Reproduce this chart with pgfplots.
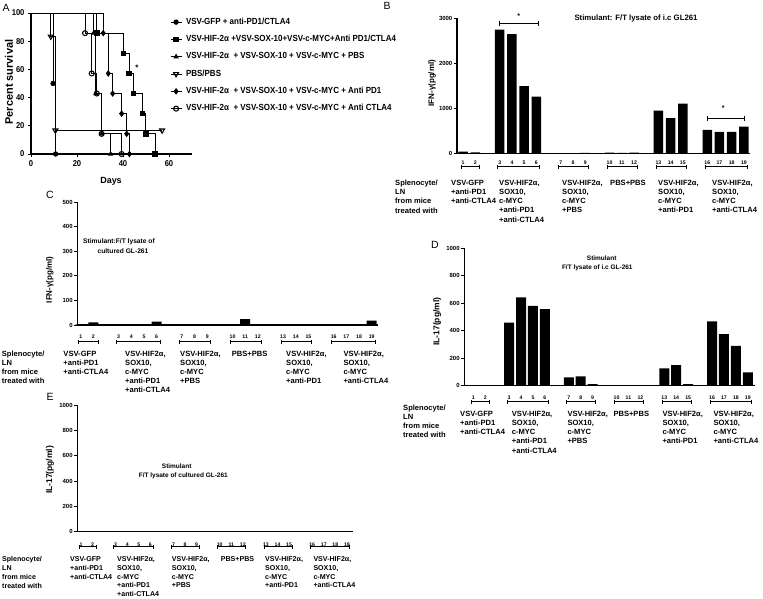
\documentclass[border=0pt]{standalone}
\usepackage{pgfplots}
\pgfplotsset{compat=1.18}
\usepackage{fontspec}
\setmainfont{Liberation Sans}
\newfontfamily\condfont[FakeStretch=0.9]{Liberation Sans}
\usetikzlibrary{arrows.meta}

\newcommand\legf{\condfont\bfseries\fontsize{8.9}{9}\selectfont}
\newcommand\atick{\condfont\bfseries\fontsize{8.5}{9}\selectfont}
\newcommand\grpf{\bfseries\fontsize{7.6}{9.2}\selectfont}
\newcommand\numf{\bfseries\fontsize{5.2}{6}\selectfont}
\newcommand\tickf{\bfseries\fontsize{6}{7}\selectfont}
\newcommand\ylf{\bfseries\fontsize{8}{9}\selectfont}
\newcommand\ylfb{\bfseries\fontsize{8.5}{9}\selectfont}
\newcommand\letf{\fontsize{10.5}{12}\selectfont}

\pgfplotsset{
  panel/.style={scale only axis, anchor=south west, axis lines=left,
    axis line style={-, line width=1.1bp, black},
    tick align=outside, major tick length=3bp,
    tick style={line width=0.9bp, black},
    clip=false, scaled ticks=false,
    /pgf/number format/assume math mode=true,
    /pgf/number format/1000 sep={}},
  bars/.style={panel, ymin=0,
    xtick={1,2,4,5,6,7,9,10,11,13,14,15,17,18,19,21,22,23,24},
    xticklabels={1,2,3,4,5,6,7,8,9,10,11,12,13,14,15,16,17,18,19},
    xtick style={draw=none},
    yticklabel style={font=\tickf, inner sep=1.5bp},
    ylabel style={font=\ylf, anchor=center}},
}
\tikzset{
  br/.style={line width=0.9bp, {Bar[width=4bp]}-{Bar[width=4bp]}},
  gl/.style={anchor=north west, inner sep=0pt, align=left, font=\grpf},
}
\newcommand\grpbr[1]{%
  \draw[br] ([yshift=-#1]axis cs:0.8,0) -- ([yshift=-#1]axis cs:2.4,0);
  \draw[br] ([yshift=-#1]axis cs:3.8,0) -- ([yshift=-#1]axis cs:7.3,0);
  \draw[br] ([yshift=-#1]axis cs:8.8,0) -- ([yshift=-#1]axis cs:11.3,0);
  \draw[br] ([yshift=-#1]axis cs:12.8,0) -- ([yshift=-#1]axis cs:15.3,0);
  \draw[br] ([yshift=-#1]axis cs:16.8,0) -- ([yshift=-#1]axis cs:19.3,0);
  \draw[br] ([yshift=-#1]axis cs:20.8,0) -- ([yshift=-#1]axis cs:24.3,0);
}
\newcommand\glabels[9]{%
  \node[gl] at (#3,#2) {Splenocyte/\\LN\\from mice\\treated with};
  \node[gl] at (#4,#1) {VSV-GFP\\+anti-PD1\\+anti-CTLA4};
  \node[gl] at (#5,#1) {VSV-HIF2α,\\SOX10,\\c-MYC\\+anti-PD1\\+anti-CTLA4};
  \node[gl] at (#6,#1) {VSV-HIF2α,\\SOX10,\\c-MYC\\+PBS};
  \node[gl] at (#7,#1) {PBS+PBS};
  \node[gl] at (#8,#1) {VSV-HIF2α,\\SOX10,\\c-MYC\\+anti-PD1};
  \node[gl] at (#9,#1) {VSV-HIF2α,\\SOX10,\\c-MYC\\+anti-CTLA4};
}

\begin{document}
\begin{tikzpicture}[x=1bp,y=1bp]
\path[use as bounding box] (0,0) rectangle (763,599);

% ---------------- Panel A ----------------
\begin{axis}[panel, at={(31bp,445bp)}, width=161bp, height=141bp,
  xmin=0, xmax=70, ymin=0, ymax=100,
  xtick={0,20,40,60}, ytick={0,20,40,60,80,100},
  tick label style={font=\atick},
  xlabel={Days}, ylabel={Percent survival},
  xlabel style={font=\bfseries\fontsize{9}{10}\selectfont, at={(axis description cs:0.497,-0.196)}, anchor=center},
  ylabel style={font=\bfseries\fontsize{11}{12}\selectfont, at={(axis description cs:-0.137,0.51)}, anchor=center},
  legend style={at={(0.863,0.965)}, anchor=north west, draw=none, fill=none,
    inner sep=0pt, font=\legf, row sep=9.3bp, column sep=4bp,
    nodes={inner sep=0pt, text height=6bp, text depth=2bp}},
  legend cell align=left,
  legend image code/.code={\draw[mark repeat=2,mark phase=2,#1] plot coordinates {(0bp,0bp) (5.5bp,0bp) (11bp,0bp)};},
  every axis plot/.append style={line width=0.9bp, black, mark size=2.2bp}
]
\addplot[const plot, mark=*, mark phase=2] coordinates {(0,100) (9.6,50) (10.7,0)};
\addlegendentry{VSV-GFP + anti-PD1/CTLA4}
\addplot[const plot, mark=square*, mark phase=2] coordinates {(0,100) (28.6,85.7) (40.1,71.4) (42.6,57.1) (44.5,42.9) (48.5,28.6) (49.9,14.3) (53.9,0)};
\addlegendentry{VSV-HIF-2α +VSV-SOX-10+VSV-c-MYC+Anti PD1/CTLA4}
\addplot[const plot, mark=triangle*, mark phase=2] coordinates {(0,100) (27.2,85.7) (28.2,42.9) (30.7,14.3) (34.6,0)};
\addlegendentry{VSV-HIF-2α \ + VSV-SOX-10 + VSV-c-MYC + PBS}
\addplot[const plot, mark=triangle, mark phase=2, mark options={rotate=180, fill=white, line width=1.1bp}, mark size=2.8bp] coordinates {(0,100) (8.6,83.3) (10.6,16.7) (57,16.7)};
\addlegendentry{PBS/PBS}
\addplot[const plot, mark=diamond*, mark phase=2, mark size=2.6bp] coordinates {(0,100) (31.4,85.7) (33.6,57.1) (35.5,42.9) (39.4,28.6) (41.6,14.3) (42.8,0)};
\addlegendentry{VSV-HIF-2α \ + VSV-SOX-10 + VSV-c-MYC + Anti PD1}
\addplot[const plot, mark=o, mark phase=2, mark options={fill=white, line width=1.1bp}, mark size=2.5bp] coordinates {(0,100) (23.5,85.7) (26.4,57.1) (28.6,42.9) (30.7,14.3) (39.4,0)};
\addlegendentry{VSV-HIF-2α \ + VSV-SOX-10 + VSV-c-MYC + Anti CTLA4}
\end{axis}
\node[font=\letf] at (6,591) {A};
\node[font=\bfseries\fontsize{8}{9}\selectfont] at (137,531) {*};

% ---------------- Panel B ----------------
\begin{axis}[bars, at={(457bp,445.7bp)}, width=293bp, height=135bp,
  xmin=0.5, xmax=24.5, ymax=3000, ytick={0,1000,2000,3000},
  xticklabel style={font=\numf, inner sep=0pt, anchor=center, yshift=-6.7bp},
  ylabel={IFN-γ(pg/ml)}, ylabel style={at={(axis description cs:-0.085,0.52)}}]
\addplot[ybar, bar width=9.5bp, fill=black, draw=none] coordinates {
 (1,35) (2,20) (4,2750) (5,2650) (6,1490) (7,1260) (9,4) (10,4) (11,8)
 (13,15) (14,10) (15,15) (17,950) (18,780) (19,1105) (21,520) (22,475) (23,475) (24,590)};
\grpbr{13.4bp}
\draw[line width=0.9bp, {Bar[width=5bp]}-{Bar[width=5bp]}] (axis cs:3.9,2889) -- (axis cs:7.2,2889);
\node[font=\bfseries\fontsize{7}{8}\selectfont] at (axis cs:5.55,3050) {*};
\draw[line width=0.9bp, {Bar[width=5bp]}-{Bar[width=5bp]}] (axis cs:21,784) -- (axis cs:24.1,784);
\node[font=\bfseries\fontsize{7}{8}\selectfont] at (axis cs:22.3,1000) {*};
\end{axis}
\node[font=\letf] at (387,593) {B};
\node[font=\bfseries\fontsize{7.8}{9}\selectfont] at (636,580) {Stimulant: F/T lysate of i.c GL261};
\glabels{419.1}{419.1}{395}{451}{499}{562}{610}{658}{712}

% ---------------- Panel C ----------------
\begin{axis}[bars, at={(77.3bp,274bp)}, width=300.7bp, height=122.7bp,
  xmin=0.73, xmax=24.5, ymax=500, ytick={0,100,200,300,400,500},
  xticklabel style={font=\numf, inner sep=0pt, anchor=center, yshift=-8.3bp},
  ylabel={IFN-γ(pg/ml)}, ylabel style={at={(axis description cs:-0.091,0.367)}}]
\addplot[ybar, bar width=10bp, fill=black, draw=none] coordinates {
 (1,3) (2,11) (4,4) (5,2) (6,2) (7,14) (9,0) (10,0) (11,0)
 (13,2) (14,24) (15,0) (17,3) (18,2) (19,2) (21,0) (22,0) (23,0) (24,18)};
\grpbr{16.7bp}
\end{axis}
\node[font=\letf] at (50,404) {C};
\node[font=\bfseries\fontsize{6.7}{8}\selectfont] at (119,357.3) {Stimulant:F/T lysate of};
\node[font=\bfseries\fontsize{6.7}{8}\selectfont] at (123,348.3) {cultured GL-261};
\glabels{248.3}{248.3}{1.7}{63.3}{125}{180}{231.7}{286}{343.3}

% ---------------- Panel D ----------------
\begin{axis}[bars, at={(464.3bp,213.3bp)}, width=290.7bp, height=137.4bp,
  xmin=0.25, xmax=24.6, ymax=1000, ytick={0,200,400,600,800,1000},
  xticklabel style={font=\numf, inner sep=0pt, anchor=center, yshift=-9.3bp},
  ylabel={IL-17(pg/ml)}, ylabel style={font=\ylfb, at={(axis description cs:-0.093,0.466)}}]
\addplot[ybar, bar width=10bp, fill=black, draw=none] coordinates {
 (1,0) (2,0) (4,459) (5,643) (6,580) (7,558) (9,61) (10,68) (11,12)
 (13,0) (14,0) (15,0) (17,126) (18,150) (19,12) (21,468) (22,376) (23,289) (24,97)};
\grpbr{16bp}
\end{axis}
\node[font=\letf] at (435,354) {D};
\node[font=\bfseries\fontsize{6.5}{8}\selectfont] at (601.7,340.7) {Stimulant};
\node[font=\bfseries\fontsize{6.5}{8}\selectfont] at (597.3,330.7) {F/T lysate of i.c GL-261};
\glabels{188.1}{194.6}{403}{460}{511.7}{567.3}{613.3}{662.3}{713.3}

% ---------------- Panel E ----------------
\begin{axis}[bars, at={(77.3bp,67.3bp)}, width=275.4bp, height=126.7bp,
  xmin=0.68, xmax=24.5, ymax=1000, ytick={0,200,400,600,800,1000},
  xticklabel style={font=\numf, inner sep=0pt, anchor=center, yshift=-10bp},
  ylabel={IL-17(pg/ml)}, ylabel style={font=\ylfb, at={(axis description cs:-0.099,0.487)}}]
\addplot[ybar, bar width=9.5bp, fill=black, draw=none] coordinates {
 (1,0) (2,0) (4,0) (5,0) (6,0) (7,0) (9,0) (10,0) (11,0)
 (13,0) (14,0) (15,0) (17,0) (18,0) (19,0) (21,0) (22,0) (23,0) (24,0)};
\grpbr{15bp}
\end{axis}
\node[font=\letf] at (50,202) {E};
\node[font=\bfseries\fontsize{6.5}{8}\selectfont] at (176.7,133) {Stimulant};
\node[font=\bfseries\fontsize{6.5}{8}\selectfont] at (183.3,123.3) {F/T lysate of cultured GL-261};
\begingroup
\tikzset{gl/.append style={font=\bfseries\fontsize{7.1}{8.9}\selectfont}}
\glabels{42.8}{42.8}{2}{70}{117}{171.7}{220.7}{265}{313.3}
\endgroup

\end{tikzpicture}
\end{document}
